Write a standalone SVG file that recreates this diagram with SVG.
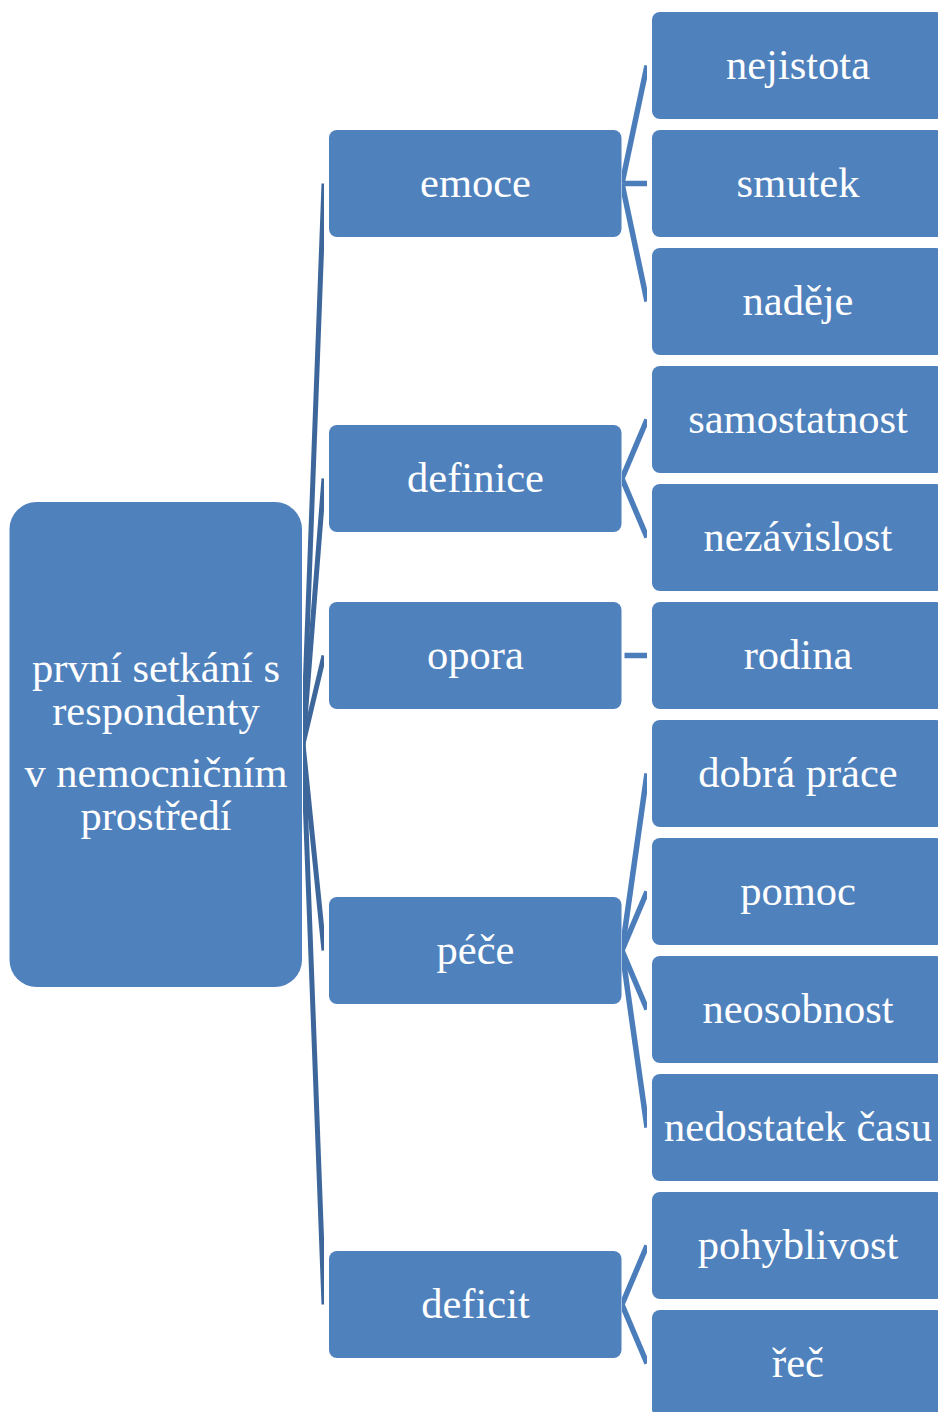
<svg xmlns="http://www.w3.org/2000/svg" width="938" height="1412" viewBox="0 0 938 1412">
<style>
.box{fill:#4F81BD;}
.t{font-family:"Liberation Serif","Times New Roman",serif;font-size:42.5px;fill:#FFFFFF;text-anchor:middle;}
.rc{stroke:#3D679A;stroke-width:5;fill:none;}
.lc{stroke:#4A7DBA;stroke-width:5.5;fill:none;}
</style>
<defs>
<clipPath id="clipRoot"><rect x="303" y="0" width="21" height="1412"/></clipPath>
<clipPath id="clipLeaf"><rect x="622" y="0" width="25" height="1412"/></clipPath>
</defs>
<rect width="938" height="1412" fill="#FFFFFF"/>
<g id="connectors">
<g clip-path="url(#clipRoot)" class="rc">
<line x1="303" y1="744" x2="324" y2="183.5"/>
<line x1="303" y1="744" x2="324" y2="478.5"/>
<line x1="303" y1="744" x2="324" y2="655.5"/>
<line x1="303" y1="744" x2="324" y2="950.5"/>
<line x1="303" y1="744" x2="324" y2="1304.5"/>
</g>
<g clip-path="url(#clipLeaf)" class="lc">
<line x1="622" y1="183.5" x2="647" y2="65.5"/>
<line x1="624.5" y1="183.5" x2="647" y2="183.5"/>
<line x1="622" y1="183.5" x2="647" y2="301.5"/>
<line x1="622" y1="478.5" x2="647" y2="419.5"/>
<line x1="622" y1="478.5" x2="647" y2="537.5"/>
<line x1="624.5" y1="655.5" x2="647" y2="655.5"/>
<line x1="622" y1="950.5" x2="647" y2="773.5"/>
<line x1="622" y1="950.5" x2="647" y2="891.5"/>
<line x1="622" y1="950.5" x2="647" y2="1009.5"/>
<line x1="622" y1="950.5" x2="647" y2="1127.5"/>
<line x1="622" y1="1304.5" x2="647" y2="1245.5"/>
<line x1="622" y1="1304.5" x2="647" y2="1363.5"/>
</g>
</g>
<g id="root">
<rect class="box" x="9.5" y="502" width="292.5" height="485" rx="27"/>
<text class="t" x="156" y="682">první setkání s</text>
<text class="t" x="156" y="725">respondenty</text>
<text class="t" x="156" y="787">v nemocničním</text>
<text class="t" x="156" y="830">prostředí</text>
</g>
<g id="emoce"><rect class="box" x="329" y="130" width="292.5" height="107" rx="8"/><text class="t" x="475.5" y="197">emoce</text></g>
<g id="definice"><rect class="box" x="329" y="425" width="292.5" height="107" rx="8"/><text class="t" x="475.5" y="492">definice</text></g>
<g id="opora"><rect class="box" x="329" y="602" width="292.5" height="107" rx="8"/><text class="t" x="475.5" y="669">opora</text></g>
<g id="pece"><rect class="box" x="329" y="897" width="292.5" height="107" rx="8"/><text class="t" x="475.5" y="964">péče</text></g>
<g id="deficit"><rect class="box" x="329" y="1251" width="292.5" height="107" rx="8"/><text class="t" x="475.5" y="1318">deficit</text></g>
<g id="nejistota"><rect class="box" x="652" y="12" width="292" height="107" rx="8"/><text class="t" x="798" y="79">nejistota</text></g>
<g id="smutek"><rect class="box" x="652" y="130" width="292" height="107" rx="8"/><text class="t" x="798" y="197">smutek</text></g>
<g id="nadeje"><rect class="box" x="652" y="248" width="292" height="107" rx="8"/><text class="t" x="798" y="315">naděje</text></g>
<g id="samostatnost"><rect class="box" x="652" y="366" width="292" height="107" rx="8"/><text class="t" x="798" y="433">samostatnost</text></g>
<g id="nezavislost"><rect class="box" x="652" y="484" width="292" height="107" rx="8"/><text class="t" x="798" y="551">nezávislost</text></g>
<g id="rodina"><rect class="box" x="652" y="602" width="292" height="107" rx="8"/><text class="t" x="798" y="669">rodina</text></g>
<g id="dobra-prace"><rect class="box" x="652" y="720" width="292" height="107" rx="8"/><text class="t" x="798" y="787">dobrá práce</text></g>
<g id="pomoc"><rect class="box" x="652" y="838" width="292" height="107" rx="8"/><text class="t" x="798" y="905">pomoc</text></g>
<g id="neosobnost"><rect class="box" x="652" y="956" width="292" height="107" rx="8"/><text class="t" x="798" y="1023">neosobnost</text></g>
<g id="nedostatek-casu"><rect class="box" x="652" y="1074" width="292" height="107" rx="8"/><text class="t" x="798" y="1141">nedostatek času</text></g>
<g id="pohyblivost"><rect class="box" x="652" y="1192" width="292" height="107" rx="8"/><text class="t" x="798" y="1259">pohyblivost</text></g>
<g id="rec"><rect class="box" x="652" y="1310" width="292" height="107" rx="8"/><text class="t" x="798" y="1377">řeč</text></g>
</svg>
